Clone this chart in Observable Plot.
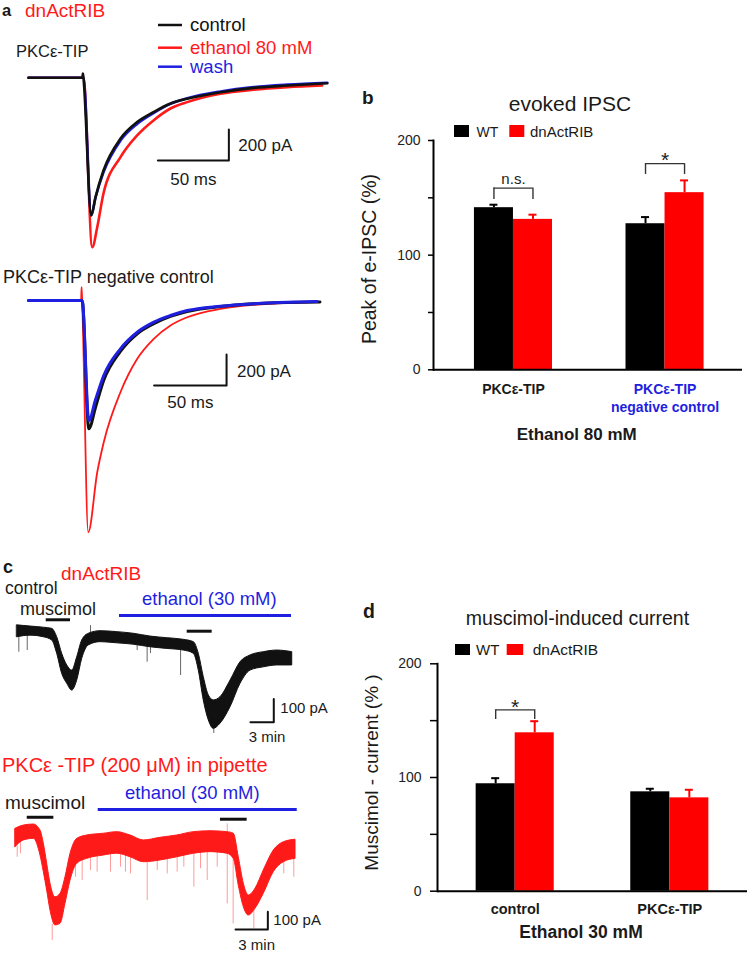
<!DOCTYPE html>
<html>
<head>
<meta charset="utf-8">
<script src="https://cdn.jsdelivr.net/npm/d3@7"></script>
<script src="https://cdn.jsdelivr.net/npm/@observablehq/plot@0.6"></script>
<style>
  html, body { margin: 0; padding: 0; background: #fff; }
  #fig { position: relative; width: 747px; height: 953px; overflow: hidden; background: #fff; }
  #fig svg { position: absolute; left: 0; top: 0; max-width: none; }
</style>
</head>
<body>
<div id="fig"></div>
<script>
// ================= DATA =================
// Panel a: evoked IPSC traces, [time (ms), current (pA)]
const seriesA = ["control", "ethanol 80 mM", "wash"];
const a1Control = [[0,0],[38,0],[38.3,28],[38.7,0],[44.2,-888],[47.2,-770],[52.8,-598],[64.8,-392],[76.5,-286],[88,-222],[100,-166],[111.8,-135],[135.2,-93],[158.5,-65],[182.2,-50],[210.4,-35]];
const a1Ethanol = [[0,0],[38,0],[38.7,0],[44.9,-1093],[48.4,-964],[52.8,-746],[64.8,-512],[76.5,-372],[88,-275],[100,-198],[111.8,-157],[135.2,-103],[158.5,-77],[182.2,-61],[206.8,-50]];
const a1Wash = [[0,0],[38,0],[38.7,0],[44.2,-885],[47.2,-772],[52.8,-610],[64.8,-405],[76.5,-298],[88,-228],[100,-168],[111.8,-132],[135.2,-88],[158.5,-60],[182.2,-44],[210.4,-32]];
const a2Control = [[0,0],[37,0],[41.6,-828],[46.2,-690],[51.9,-515],[63.4,-329],[75,-215],[86.4,-150],[97.9,-103],[109.4,-71],[132.4,-39],[155.4,-21],[178.4,-13],[201,-10]];
const a2Ethanol = [[0,0],[36.3,0],[36.6,86],[37,0],[41.2,-1495],[47.4,-1108],[51.9,-914],[63.4,-592],[75,-376],[86.4,-247],[97.9,-161],[109.4,-108],[132.4,-54],[155.4,-28],[178.4,-15],[196.6,-11]];
const a2Wash = [[0,0],[37,0],[41.6,-774],[46.2,-640],[51.9,-484],[63.4,-312],[75,-205],[86.4,-140],[97.9,-97],[109.4,-65],[132.4,-37],[155.4,-21],[178.4,-11],[199,-6]];
const scaleBarA = {x: 50, xUnit: "ms", y: 200, yUnit: "pA"};

// Panel b: evoked IPSC peak (%)
const groupsB = ["PKCε-TIP", "PKCε-TIP\nnegative control"];
const seriesB = ["WT", "dnActRIB"];
const wtB = [141.4, 127.4];
const wtErrB = [2.6, 5.8];
const dnB = [131.2, 154.5];
const dnErrB = [4.1, 10.7];
const sigB = ["n.s.", "*"];
const bracketTopB = [158.5, 179.8];
const bracketLegB = [148.6, 170.4];
const yTicks = [0, 100, 200];
const yMinorTicks = [50, 150];

// Panel c: muscimol-induced current traces, envelope [time (min), lower pA, upper pA]
const c1Envelope = [[0,-29,22],[1.71,-22,17],[3.42,-29,12],[4.5,-43,7],[5.14,-100,-29],[5.78,-186,-100],[6.43,-229,-150],[7.07,-258,-172],[7.71,-215,-115],[8.35,-122,-43],[9.2,-64,-14],[10.71,-50,-3],[12.85,-55,-7],[14.99,-61,-14],[17.13,-72,-26],[19.28,-79,-33],[21.41,-86,-40],[22.7,-100,-50],[23.34,-172,-100],[23.98,-300,-200],[24.63,-386,-279],[25.27,-422,-300],[26.13,-400,-286],[27.42,-329,-215],[28.7,-229,-136],[29.99,-172,-107],[31.7,-158,-93],[33.42,-150,-86],[35.35,-150,-93]];
const c1Spikes = [[0.21,-93,-26],[1.29,-86,-22],[9.42,-14,21],[15.42,-86,-60],[16.7,-136,-70],[17.13,-99,-70],[21.0,-193,-85],[25.27,-442,-420]];
const c1Muscimol = [[3.73,6.85],[21.85,25.06]];
const c1EthanolPeriod = [[13.15,35.26]];
const c2Envelope = [[0,-66,38],[0.77,-28,56],[1.7,-19,62],[2.32,-113,28],[2.63,-207,-47],[2.94,-311,-160],[3.25,-424,-273],[3.71,-508,-349],[4.18,-499,-329],[4.64,-386,-236],[5.11,-254,-103],[5.73,-160,-19],[6.66,-132,0],[8.2,-113,10],[9.44,-103,19],[10.68,-123,0],[11.91,-151,-28],[13.46,-141,-13],[15.01,-123,0],[16.56,-103,19],[18.11,-94,24],[19.66,-103,19],[20.27,-132,10],[20.73,-283,-123],[21.2,-405,-273],[21.66,-452,-339],[22.28,-414,-301],[23.05,-329,-198],[23.98,-207,-85],[24.91,-151,-38],[26,-132,-24]];
const c2Spikes = [[0.16,-123,-60],[0.46,-104,-40],[3.41,-593,-500],[5.57,-236,-150],[6.19,-254,-120],[6.96,-198,-110],[7.58,-207,-100],[8.82,-207,-100],[9.75,-179,-95],[10.21,-207,-100],[10.68,-217,-110],[12.23,-367,-140],[13.16,-198,-130],[14.09,-217,-130],[15.01,-207,-110],[15.63,-179,-100],[16.56,-292,-100],[17.18,-188,-90],[17.8,-254,-90],[18.73,-179,-90],[19.66,-386,66],[20.21,-499,-120],[22.13,-527,-400],[24.91,-217,-140],[25.84,-236,-120]];
const c2Muscimol = [[1.09,3.56],[19.03,21.51]];
const c2EthanolPeriod = [[7.68,26.16]];
const scaleBarC = {x: 3, xUnit: "min", y: 100, yUnit: "pA"};

// Panel d: muscimol-induced current (%)
const groupsD = ["control", "PKCε-TIP"];
const wtD = [94.5, 87.4];
const wtErrD = [4.9, 2.7];
const dnD = [139.3, 82.1];
const dnErrD = [10.2, 7.1];
const sigD = ["*"];
const bracketTopD = [159.5];
const bracketLegD = [151];

// ================= RENDER =================
const FONT = '"Liberation Sans", Arial, Helvetica, sans-serif';
const RED = "#ff1a1a", BARRED = "#ff0000", BLUE = "#1f1fe0", BLK = "#111111", TXT = "#1a1a1a";
const fig = document.getElementById("fig");
function add(node) { node.style.position = "absolute"; node.style.left = "0px"; node.style.top = "0px"; node.style.maxWidth = "none"; node.style.background = "transparent"; fig.appendChild(node); }
const base = {width: 747, height: 953, style: {background: "transparent", fontFamily: FONT, overflow: "visible"}};
const X = d => d[0], Y = d => d[1], LO = d => d[1], HI = d => d[2];

function scaleBar(sb, t, I, o) {
  return [
    Plot.line([[t - sb.x, I], [t, I], [t, I + sb.y]], {x: X, y: Y, stroke: BLK, strokeWidth: 2}),
    Plot.text([`${sb.y} ${sb.yUnit}`], {x: t, y: I + sb.y / 2, dx: o.dxV, dy: o.dyV, textAnchor: "start", lineAnchor: "middle", fontSize: o.size, fill: TXT}),
    Plot.text([`${sb.x} ${sb.xUnit}`], {x: t - sb.x / 2, y: I, dx: o.dxH, dy: o.dyH, lineAnchor: "top", fontSize: o.size, fill: TXT})
  ];
}

// ---- panel a1 ----
add(Plot.plot({...base, margin: 0,
  x: {domain: [0, 210], range: [28, 28 + 210 * 1.42], axis: null},
  y: {domain: [-1150, 50], range: [77.3 + 1150 * 0.155, 77.3 - 50 * 0.155], axis: null},
  marks: [
    Plot.line(a1Ethanol, {x: X, y: Y, stroke: RED, strokeWidth: 2.6, curve: "monotone-x"}),
    Plot.line(a1Wash, {x: X, y: Y, stroke: BLUE, strokeWidth: 2.6, curve: "monotone-x"}),
    Plot.line(a1Control, {x: X, y: Y, stroke: BLK, strokeWidth: 2.6, curve: "monotone-x"}),
    ...scaleBar(scaleBarA, 141.1, -533.5, {dxV: 9.5, dyV: 1, dxH: 0, dyH: 12, size: 17})
  ]}));

// ---- panel a2 ----
add(Plot.plot({...base, margin: 0,
  x: {domain: [0, 210], range: [28, 28 + 210 * 1.45], axis: null},
  y: {domain: [-1550, 100], range: [300 + 1550 * 0.155, 300 - 100 * 0.155], axis: null},
  marks: [
    Plot.line(a2Ethanol, {x: X, y: Y, stroke: RED, strokeWidth: 1.8, curve: "monotone-x"}),
    Plot.line(a2Control, {x: X, y: Y, stroke: BLK, strokeWidth: 3, curve: "monotone-x"}),
    Plot.line(a2Wash, {x: X, y: Y, stroke: BLUE, strokeWidth: 3, curve: "monotone-x"}),
    ...scaleBar(scaleBarA, 136.6, -548.4, {dxV: 10.5, dyV: 1.5, dxH: 0, dyH: 10.5, size: 17})
  ]}));

// ---- bar chart helper ----
function barChart(cfg) {
  const rows = cfg.groups.map((g, i) => ({group: g, wt: cfg.wt[i], wtErr: cfg.wtErr[i], dn: cfg.dn[i], dnErr: cfg.dnErr[i]}));
  const n = cfg.groups.length;
  const step = (cfg.xr[1] - cfg.xr[0]) / (n - cfg.pi + 2 * cfg.po);
  const bw = step * (1 - cfg.pi);
  const brackets = cfg.sig.map((s, i) => ({group: cfg.sigGroups[i], sig: s, top: cfg.top[i], leg: cfg.leg[i]}));
  const marks = [
    Plot.barY(rows, {x: "group", y: "wt", fill: "#000", insetRight: bw / 2, insetLeft: 0}),
    Plot.barY(rows, {x: "group", y: "dn", fill: BARRED, insetLeft: bw / 2, insetRight: 0}),
    Plot.ruleX(rows, {x: "group", y1: "wt", y2: d => d.wt + d.wtErr, dx: -bw / 4, stroke: "#000", strokeWidth: 2}),
    Plot.tickY(rows, {x: "group", y: d => d.wt + d.wtErr, insetLeft: bw / 4 - 4, insetRight: 3 * bw / 4 - 4, stroke: "#000", strokeWidth: 2}),
    Plot.ruleX(rows, {x: "group", y1: "dn", y2: d => d.dn + d.dnErr, dx: bw / 4, stroke: BARRED, strokeWidth: 2}),
    Plot.tickY(rows, {x: "group", y: d => d.dn + d.dnErr, insetLeft: 3 * bw / 4 - 4, insetRight: bw / 4 - 4, stroke: BARRED, strokeWidth: 2}),
    Plot.tickY(brackets, {x: "group", y: "top", insetLeft: bw / 4, insetRight: bw / 4, stroke: "#333", strokeWidth: 1.4}),
    Plot.ruleX(brackets, {x: "group", y1: "leg", y2: "top", dx: -bw / 4, stroke: "#333", strokeWidth: 1.4}),
    Plot.ruleX(brackets, {x: "group", y1: "leg", y2: "top", dx: bw / 4, stroke: "#333", strokeWidth: 1.4}),
    Plot.ruleY([0], {stroke: "#000", strokeWidth: 2}),
    Plot.frame({anchor: "left", stroke: "#000", strokeWidth: 2}),
    Plot.axisY(yTicks, {tickSize: cfg.tickSize, tickPadding: cfg.tickPad, fontSize: 14, strokeWidth: 1.5, label: null, fill: "#222"}),
    Plot.axisY(yMinorTicks, {tickSize: cfg.tickSize, text: null, strokeWidth: 1.5, label: null})
  ];
  brackets.forEach(b => {
    const star = b.sig === "*";
    marks.push(Plot.text([b], {x: "group", y: "top", text: "sig", lineAnchor: "middle", dy: star ? cfg.starDy : -9.2, fontSize: star ? 21 : 15, fill: "#222"}));
  });
  cfg.groups.forEach((g, i) => {
    marks.push(Plot.text([g], {x: d => d, frameAnchor: "bottom", lineAnchor: "top", dy: cfg.labDy, fontSize: cfg.labSize, fontWeight: "bold", lineHeight: 1.29, fill: (cfg.blueGroup === i) ? BLUE : TXT}));
  });
  return Plot.plot({...base, marginLeft: cfg.ml, marginRight: cfg.mr, marginTop: cfg.mt, marginBottom: cfg.mb,
    x: {type: "band", domain: cfg.groups, range: cfg.xr, paddingInner: cfg.pi, paddingOuter: cfg.po, round: false, axis: null},
    y: {domain: [0, 200], axis: null},
    marks});
}

add(barChart({groups: groupsB, wt: wtB, wtErr: wtErrB, dn: dnB, dnErr: dnErrB,
  sig: sigB, sigGroups: groupsB, top: bracketTopB, leg: bracketLegB,
  xr: [433, 744.5], pi: 0.485, po: 0.27, ml: 433, mr: 5, mt: 140, mb: 953 - 369.3,
  tickSize: 5, tickPad: 8, starDy: -3.8, labDy: 11.5, labSize: 14, blueGroup: 1}));

add(barChart({groups: groupsD, wt: wtD, wtErr: wtErrD, dn: dnD, dnErr: dnErrD,
  sig: sigD, sigGroups: [groupsD[0]], top: bracketTopD, leg: bracketLegD,
  xr: [437, 747], pi: 0.495, po: 0.25, ml: 437, mr: 0, mt: 663.3, mb: 953 - 890.7,
  tickSize: 7, tickPad: 9, starDy: -2.8, labDy: 9.6, labSize: 14.5, blueGroup: -1}));

// ---- panel c1 ----
add(Plot.plot({...base, margin: 0,
  x: {domain: [0, 35.35], range: [16.7, 16.7 + 35.35 * 7.78], axis: null},
  y: {domain: [-450, 100], range: [630 + 450 * 0.233, 630 - 100 * 0.233], axis: null},
  marks: [
    Plot.ruleX(c1Spikes, {x: X, y1: LO, y2: HI, stroke: "#666", strokeWidth: 1}),
    Plot.areaY(c1Envelope, {x: X, y1: LO, y2: HI, fill: BLK, stroke: BLK, strokeWidth: 1, curve: "monotone-x"}),
    Plot.ruleY(c1Muscimol, {x1: X, x2: Y, y: (d, i) => i === 0 ? 46 : -3, stroke: BLK, strokeWidth: 3}),
    Plot.ruleY(c1EthanolPeriod, {x1: X, x2: Y, y: 64, stroke: BLUE, strokeWidth: 3}),
    ...scaleBar(scaleBarC, 32.98, -393.6, {dxV: 6.5, dyV: -2, dxH: 5, dyH: 9, size: 15})
  ]}));

// ---- panel c2 ----
add(Plot.plot({...base, margin: 0,
  x: {domain: [0, 26], range: [15, 15 + 26 * 10.77], axis: null},
  y: {domain: [-600, 100], range: [835 + 600 * 0.177, 835 - 100 * 0.177], axis: null},
  marks: [
    Plot.ruleX(c2Spikes, {x: X, y1: LO, y2: HI, stroke: "#ff7a7a", strokeOpacity: 0.75, strokeWidth: 1}),
    Plot.areaY(c2Envelope, {x: X, y1: LO, y2: HI, fill: RED, stroke: RED, strokeWidth: 1, curve: "monotone-x"}),
    Plot.ruleY(c2Muscimol, {x1: X, x2: Y, y: (d, i) => i === 0 ? 103 : 92, stroke: BLK, strokeWidth: 3}),
    Plot.ruleY(c2EthanolPeriod, {x1: X, x2: Y, y: 147, stroke: BLUE, strokeWidth: 3}),
    ...scaleBar(scaleBarC, 23.43, -531, {dxV: 5.5, dyV: 0, dxH: 5, dyH: 10, size: 15})
  ]}));

// ---- annotations (titles, labels, legends) ----
const ov = d3.create("svg").attr("width", 747).attr("height", 953).attr("font-family", FONT);
function txt(s, x, y, o = {}) {
  const t = ov.append("text").attr("x", x).attr("y", y)
    .attr("font-size", o.size || 16).attr("fill", o.fill || TXT)
    .attr("text-anchor", o.anchor || "start").text(s);
  if (o.bold) t.attr("font-weight", "bold");
  if (o.rotate) t.attr("transform", `rotate(${o.rotate} ${x} ${y})`);
  return t;
}
// panel a
txt("a", 2, 15.5, {size: 16.5, bold: true});
txt("dnActRIB", 25, 17, {size: 19, fill: RED});
const colA = [BLK, RED, BLUE];
[25, 47.7, 66.7].forEach((y, i) => {
  ov.append("line").attr("x1", 158).attr("x2", 182).attr("y1", y).attr("y2", y).attr("stroke", colA[i]).attr("stroke-width", 2.5);
  txt(seriesA[i], 190, y + 6.3, {size: 18.5, fill: colA[i]});
});
txt("PKCε-TIP", 16, 57, {size: 16.5});
txt("PKCε-TIP negative control", 3, 283, {size: 18});
// panel b
txt("b", 362, 103.5, {size: 19, bold: true});
txt("evoked IPSC", 570, 110.5, {size: 21, anchor: "middle"});
ov.append("rect").attr("x", 454).attr("y", 125).attr("width", 15).attr("height", 12).attr("fill", "#000");
txt(seriesB[0], 476.5, 136.5, {size: 14});
ov.append("rect").attr("x", 509.3).attr("y", 125).attr("width", 15).attr("height", 12).attr("fill", BARRED);
txt(seriesB[1], 530, 136.5, {size: 15});
txt("Peak of e-IPSC (%)", 376, 259, {size: 19.5, anchor: "middle", rotate: -90});
txt("Ethanol 80 mM", 576.7, 440, {size: 17, bold: true, anchor: "middle"});
// panel c
txt("c", 3, 573, {size: 18, bold: true});
txt("dnActRIB", 61, 580, {size: 19, fill: RED});
txt("control", 5, 594, {size: 17.5});
txt("muscimol", 20, 614.5, {size: 18});
txt("ethanol (30 mM)", 142, 605, {size: 18.5, fill: BLUE});
txt("PKCε -TIP (200 μM) in pipette", 2, 771.5, {size: 20, fill: RED});
txt("muscimol", 5, 809, {size: 19});
txt("ethanol (30 mM)", 125, 799, {size: 18.5, fill: BLUE});
// panel d
txt("d", 363, 618, {size: 19.5, bold: true});
txt("muscimol-induced current", 577.5, 625, {size: 19.5, anchor: "middle"});
ov.append("rect").attr("x", 455).attr("y", 644).attr("width", 15).attr("height", 11).attr("fill", "#000");
txt(seriesB[0], 476, 655, {size: 15});
ov.append("rect").attr("x", 506.7).attr("y", 644).attr("width", 16.5).attr("height", 11).attr("fill", BARRED);
txt(seriesB[1], 532.7, 655, {size: 15.5});
txt("Muscimol - current (% )", 378, 772.5, {size: 19, anchor: "middle", rotate: -90});
txt("Ethanol 30 mM", 581, 938.3, {size: 17.5, bold: true, anchor: "middle"});
add(ov.node());
</script>
</body>
</html>
